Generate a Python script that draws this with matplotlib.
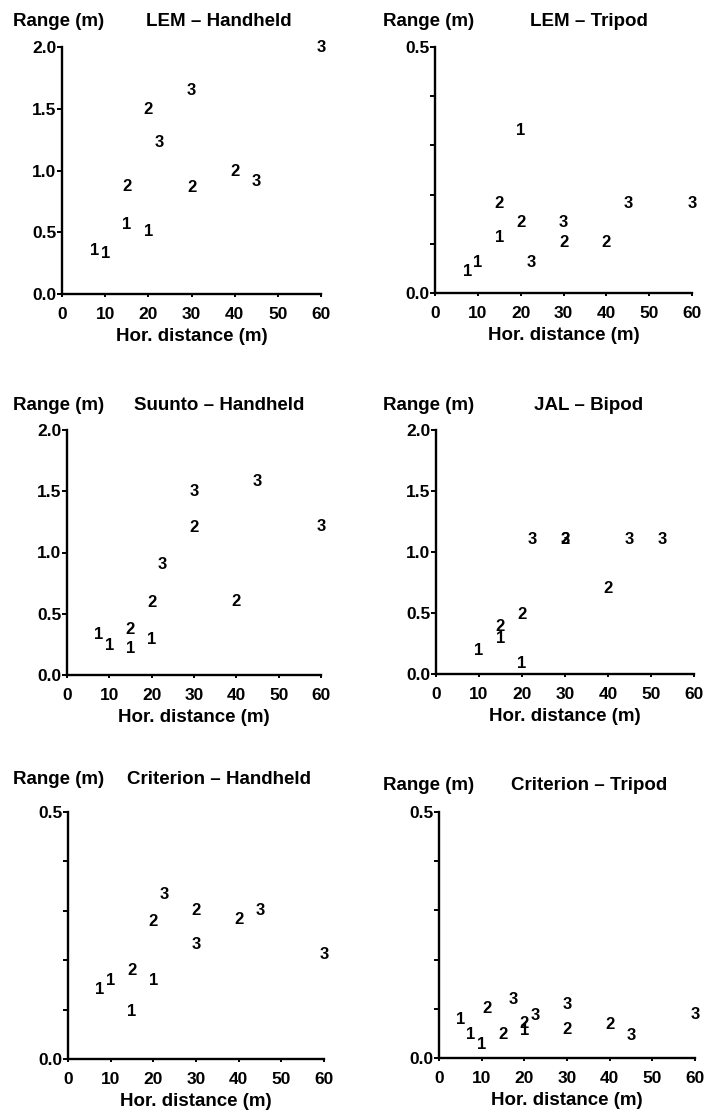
import numpy as np
import matplotlib
matplotlib.use("Agg")
import matplotlib.pyplot as plt
from matplotlib.ticker import MultipleLocator, FormatStrFormatter

# Data: horizontal distance (m), range (m), set id (1/2/3)
LEM_HAND_X = [7.5, 10, 15, 20, 15, 20, 30, 40, 22.5, 30, 45, 60]
LEM_HAND_Y = [0.35, 0.33, 0.56, 0.51, 0.87, 1.49, 0.86, 0.99, 1.23, 1.65, 0.91, 2.0]
LEM_HAND_ID = [1, 1, 1, 1, 2, 2, 2, 2, 3, 3, 3, 3]

LEM_TRI_X = [7.5, 10, 15, 20, 15, 20, 30, 40, 22.5, 30, 45, 60]
LEM_TRI_Y = [0.043, 0.063, 0.112, 0.331, 0.181, 0.143, 0.103, 0.102, 0.061, 0.143, 0.181, 0.181]
LEM_TRI_ID = [1, 1, 1, 1, 2, 2, 2, 2, 3, 3, 3, 3]

SUUNTO_X = [7.5, 10, 15, 20, 15, 20, 30, 40, 22.5, 30, 45, 60]
SUUNTO_Y = [0.33, 0.24, 0.22, 0.29, 0.37, 0.59, 1.2, 0.6, 0.9, 1.5, 1.58, 1.21]
SUUNTO_ID = [1, 1, 1, 1, 2, 2, 2, 2, 3, 3, 3, 3]

JAL_X = [10, 15, 20, 15, 20, 30, 40, 22.5, 30, 45, 52.5]
JAL_Y = [0.19, 0.29, 0.09, 0.39, 0.49, 1.1, 0.7, 1.1, 1.1, 1.1, 1.1]
JAL_ID = [1, 1, 1, 2, 2, 2, 2, 3, 3, 3, 3]

CRIT_HAND_X = [7.5, 10, 15, 20, 15, 20, 30, 40, 22.5, 30, 45, 60]
CRIT_HAND_Y = [0.14, 0.159, 0.096, 0.159, 0.179, 0.278, 0.301, 0.282, 0.332, 0.231, 0.301, 0.211]
CRIT_HAND_ID = [1, 1, 1, 1, 2, 2, 2, 2, 3, 3, 3, 3]

CRIT_TRI_X = [5, 7.5, 10, 20, 11.25, 15, 20, 30, 40, 17.5, 22.5, 30, 45, 60]
CRIT_TRI_Y = [0.078, 0.048, 0.028, 0.056, 0.10, 0.048, 0.07, 0.058, 0.068, 0.119, 0.087, 0.109, 0.046, 0.089]
CRIT_TRI_ID = [1, 1, 1, 1, 2, 2, 2, 2, 2, 3, 3, 3, 3, 3]

TITLES = ["LEM \u2013 Handheld", "LEM \u2013 Tripod", "Suunto \u2013 Handheld",
          "JAL \u2013 Bipod", "Criterion \u2013 Handheld", "Criterion \u2013 Tripod"]
Y_MAX = [2.0, 0.5, 2.0, 2.0, 0.5, 0.5]

W, H = 706, 1118
plt.rcParams["font.family"] = "Liberation Sans"
plt.rcParams["font.weight"] = "bold"

# axes boxes in pixels: left, right, top, bottom
BOXES = [
    (62, 321, 47, 294), (435, 692, 47, 293),
    (67, 321, 430, 675), (436, 694, 430, 674),
    (68, 324, 812, 1059), (439, 695, 812, 1058),
]
TITLE_Y = [22, 21, 405, 405, 780, 785]


def make_panel(fig, box, xs, ys, ids, ymax, title, title_y, col):
    l, r, t, b = box
    ax = fig.add_axes([l / W, 1 - b / H, (r - l) / W, (b - t) / H])
    ax.set_xlim(0, 60)
    ax.set_ylim(0, ymax)
    for s in ["top", "right"]:
        ax.spines[s].set_visible(False)
    for s in ["left", "bottom"]:
        ax.spines[s].set_linewidth(1.7)
    ax.xaxis.set_major_locator(MultipleLocator(10))
    ax.yaxis.set_major_locator(MultipleLocator(0.5))
    ax.yaxis.set_major_formatter(FormatStrFormatter("%.1f"))
    if ymax < 1:
        ax.yaxis.set_minor_locator(MultipleLocator(0.1))
    ax.tick_params(axis="y", which="both", direction="out", length=3.5,
                   width=1.4, pad=0.5, labelsize=12.5)
    ax.tick_params(axis="x", which="both", direction="out", length=2.5,
                   width=1.4, pad=7, labelsize=12.5)
    for lab in ax.get_xticklabels() + ax.get_yticklabels():
        lab.set_fontweight("bold")
    for x, y, i in zip(xs, ys, ids):
        ax.text(x, y, str(i), ha="center", va="center", fontsize=12,
                fontweight="bold", clip_on=False)
    ax.set_xlabel("Hor. distance (m)", fontsize=13.5, fontweight="bold",
                  labelpad=4)
    left_x = 13 if col == 0 else 383
    mid_x = 219 if col == 0 else 589
    fig.text(left_x / W, 1 - title_y / H, "Range (m)", ha="left", va="center",
             fontsize=13.5, fontweight="bold")
    fig.text(mid_x / W, 1 - title_y / H, title, ha="center", va="center",
             fontsize=13.5, fontweight="bold")
    return ax


def main():
    fig = plt.figure(figsize=(W / 100, H / 100), dpi=100)
    data = [
        (LEM_HAND_X, LEM_HAND_Y, LEM_HAND_ID),
        (LEM_TRI_X, LEM_TRI_Y, LEM_TRI_ID),
        (SUUNTO_X, SUUNTO_Y, SUUNTO_ID),
        (JAL_X, JAL_Y, JAL_ID),
        (CRIT_HAND_X, CRIT_HAND_Y, CRIT_HAND_ID),
        (CRIT_TRI_X, CRIT_TRI_Y, CRIT_TRI_ID),
    ]
    for k, (xs, ys, ids) in enumerate(data):
        make_panel(fig, BOXES[k], xs, ys, ids, Y_MAX[k], TITLES[k],
                   TITLE_Y[k], k % 2)
    fig.savefig("out.png", dpi=100)


if __name__ == "__main__":
    main()
